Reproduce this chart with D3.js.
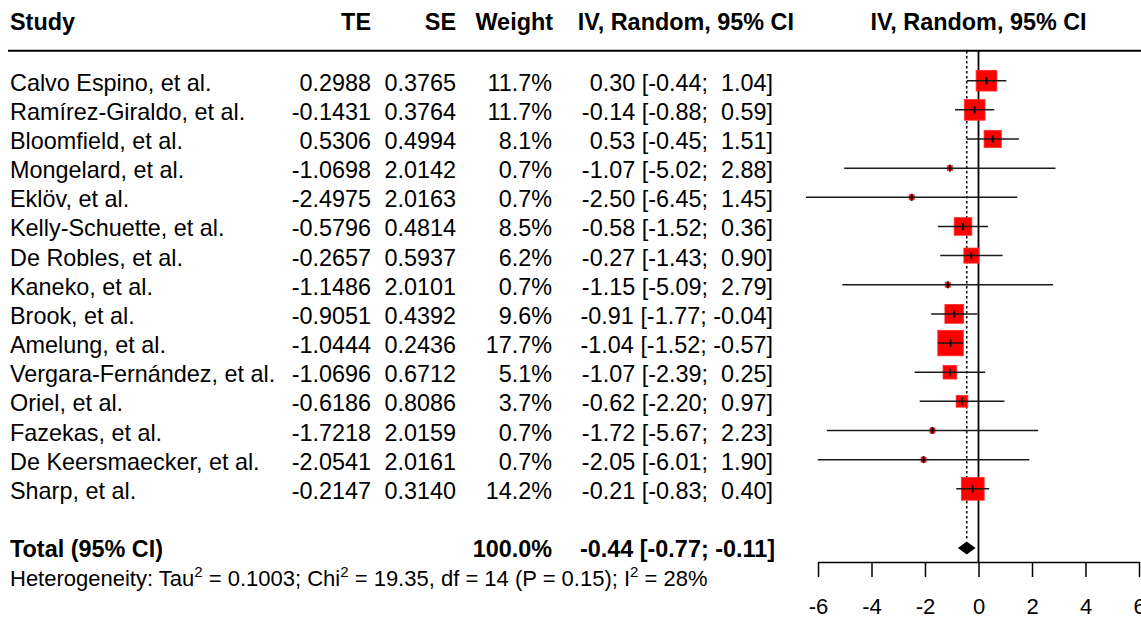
<!DOCTYPE html>
<html>
<head>
<meta charset="utf-8">
<script src="https://cdn.jsdelivr.net/npm/d3@7"></script>
<style>
  body { margin: 0; background: #fff; }
  svg { display: block; font-family: "Liberation Sans", Arial, sans-serif; }
  text { white-space: pre; fill: #000; }
</style>
</head>
<body>
<svg id="chart" width="1141" height="619"></svg>
<script>
// study data
const studies = ['Calvo Espino, et al.', 'Ramírez-Giraldo, et al.', 'Bloomfield, et al.',
  'Mongelard, et al.', 'Eklöv, et al.', 'Kelly-Schuette, et al.', 'De Robles, et al.',
  'Kaneko, et al.', 'Brook, et al.', 'Amelung, et al.', 'Vergara-Fernández, et al.',
  'Oriel, et al.', 'Fazekas, et al.', 'De Keersmaecker, et al.', 'Sharp, et al.']
const te = [0.2988, -0.1431, 0.5306, -1.0698, -2.4975, -0.5796, -0.2657, -1.1486,
  -0.9051, -1.0444, -1.0696, -0.6186, -1.7218, -2.0541, -0.2147]
const se = [0.3765, 0.3764, 0.4994, 2.0142, 2.0163, 0.4814, 0.5937, 2.0101,
  0.4392, 0.2436, 0.6712, 0.8086, 2.0159, 2.0161, 0.3140]
const weights = [11.7, 11.7, 8.1, 0.7, 0.7, 8.5, 6.2, 0.7, 9.6, 17.7, 5.1, 3.7, 0.7, 0.7, 14.2]
const ciLow = [-0.44, -0.88, -0.45, -5.02, -6.45, -1.52, -1.43, -5.09, -1.77, -1.52, -2.39, -2.20, -5.67, -6.01, -0.83]
const ciHigh = [1.04, 0.59, 1.51, 2.88, 1.45, 0.36, 0.90, 2.79, -0.04, -0.57, 0.25, 0.97, 2.23, 1.90, 0.40]

const total = { est: -0.44, low: -0.77, high: -0.11, weight: 100.0 }
const het = { tau2: '0.1003', chi2: '19.35', df: 14, p: '0.15', i2: '28%' }
const xTicks = [-6, -4, -2, 0, 2, 4, 6]

const svg = d3.select('#chart')
const fs = 23.4

const x = d3.scaleLinear().domain([-6, 6]).range([818, 1139])
const y = d3.scaleLinear().domain([0, 16]).range([80.7, 547.1])
const side = d3.scaleSqrt().domain([0, d3.max(weights)]).range([0, 25.5])

// plain hyphen for minus, like the R output
const loc = d3.formatLocale({ decimal: '.', thousands: ',', grouping: [3], currency: ['', ''], minus: '-' })
const f4 = loc.format('.4f'), f2 = loc.format('.2f'), f1 = loc.format('.1f')
const pad = v => f2(v).padStart(5, ' ')
const ciText = (e, l, h) => `${f2(e)} [${f2(l)}; ${pad(h)}]`

const rows = studies.map((s, i) => ({ s, i, te: te[i], se: se[i], w: weights[i], lo: ciLow[i], hi: ciHigh[i] }))

// header
const head = svg.append('g').attr('font-weight', 'bold').attr('font-size', fs)
head.append('text').attr('x', 10).attr('y', 30).text('Study')
head.append('text').attr('x', 371).attr('y', 30).attr('text-anchor', 'end').text('TE')
head.append('text').attr('x', 456).attr('y', 30).attr('text-anchor', 'end').text('SE')
head.append('text').attr('x', 553).attr('y', 30).attr('text-anchor', 'end').text('Weight')
head.append('text').attr('x', 794).attr('y', 30).attr('text-anchor', 'end').text('IV, Random, 95% CI')
head.append('text').attr('x', x(0)).attr('y', 30).attr('text-anchor', 'middle').text('IV, Random, 95% CI')

svg.append('line').attr('x1', 8).attr('x2', 1141).attr('y1', 50.7).attr('y2', 50.7)
  .attr('stroke', '#000').attr('stroke-width', 2)

// table rows
const tbl = svg.append('g').attr('font-size', fs)
const row = tbl.selectAll('g.row').data(rows).join('g')
  .attr('class', 'row')
  .attr('transform', d => `translate(0,${y(d.i) + 10})`)
row.append('text').attr('x', 10).text(d => d.s)
row.append('text').attr('x', 371).attr('text-anchor', 'end').text(d => f4(d.te))
row.append('text').attr('x', 456).attr('text-anchor', 'end').text(d => f4(d.se))
row.append('text').attr('x', 552).attr('text-anchor', 'end').text(d => f1(d.w) + '%')
row.append('text').attr('x', 773).attr('text-anchor', 'end').text(d => ciText(d.te, d.lo, d.hi))

// total row
const tot = svg.append('g').attr('font-size', fs).attr('font-weight', 'bold')
  .attr('transform', `translate(0,${y(16) + 10})`)
tot.append('text').attr('x', 10).text('Total (95% CI)')
tot.append('text').attr('x', 552).attr('text-anchor', 'end').text(f1(total.weight) + '%')
tot.append('text').attr('x', 775).attr('text-anchor', 'end').text(ciText(total.est, total.low, total.high))

// heterogeneity line
const ht = svg.append('text').attr('x', 10).attr('y', 586).attr('font-size', 22)
const sup = t => { ht.append('tspan').attr('font-size', 15).attr('dy', -9).text(t); }
ht.append('tspan').text('Heterogeneity: Tau')
sup('2')
ht.append('tspan').attr('dy', 9).text(` = ${het.tau2}; Chi`)
sup('2')
ht.append('tspan').attr('dy', 9).text(` = ${het.chi2}, df = ${het.df} (P = ${het.p}); I`)
sup('2')
ht.append('tspan').attr('dy', 9).text(` = ${het.i2}`)

// forest panel
const plot = svg.append('g')

plot.append('line').attr('x1', x(total.est)).attr('x2', x(total.est))
  .attr('y1', 51).attr('y2', 541)
  .attr('stroke', '#111').attr('stroke-width', 1.6).attr('stroke-dasharray', '2.5,2.5')

plot.append('line').attr('x1', x(0)).attr('x2', x(0))
  .attr('y1', 51).attr('y2', 562)
  .attr('stroke', '#000').attr('stroke-width', 1.8)

const st = plot.selectAll('g.study').data(rows).join('g').attr('class', 'study')
st.append('rect')
  .attr('x', d => x(d.te) - side(d.w) / 2)
  .attr('y', d => y(d.i) - side(d.w) / 2)
  .attr('width', d => side(d.w))
  .attr('height', d => side(d.w))
  .attr('fill', '#ff0000')
  .attr('stroke', '#ff3030').attr('stroke-width', 0.8)
st.append('line')
  .attr('x1', d => x(d.lo)).attr('x2', d => x(d.hi))
  .attr('y1', d => y(d.i)).attr('y2', d => y(d.i))
  .attr('stroke', '#1a1a1a').attr('stroke-width', 1.5)
st.append('line')
  .attr('x1', d => x(d.te)).attr('x2', d => x(d.te))
  .attr('y1', d => y(d.i) - 3.5).attr('y2', d => y(d.i) + 3.5)
  .attr('stroke', '#000').attr('stroke-width', 1.8)

// summary diamond
const yd = y(16) + 1
plot.append('path')
  .attr('d', `M${x(total.low)},${yd}L${x(total.est)},${yd - 6.5}L${x(total.high)},${yd}L${x(total.est)},${yd + 6.5}Z`)
  .attr('fill', '#000')

// x axis
const axis = plot.append('g')
  .attr('transform', 'translate(0,562)')
  .call(d3.axisBottom(x).tickValues(xTicks).tickSize(15).tickSizeOuter(0).tickPadding(21).tickFormat(loc.format('d')))
axis.select('.domain').attr('stroke', '#000').attr('stroke-width', 1.5)
axis.selectAll('.tick line').attr('stroke', '#000').attr('stroke-width', 1.5)
axis.selectAll('.tick text').attr('font-size', 22).attr('font-family', '"Liberation Sans", Arial, sans-serif')
</script>
</body>
</html>
